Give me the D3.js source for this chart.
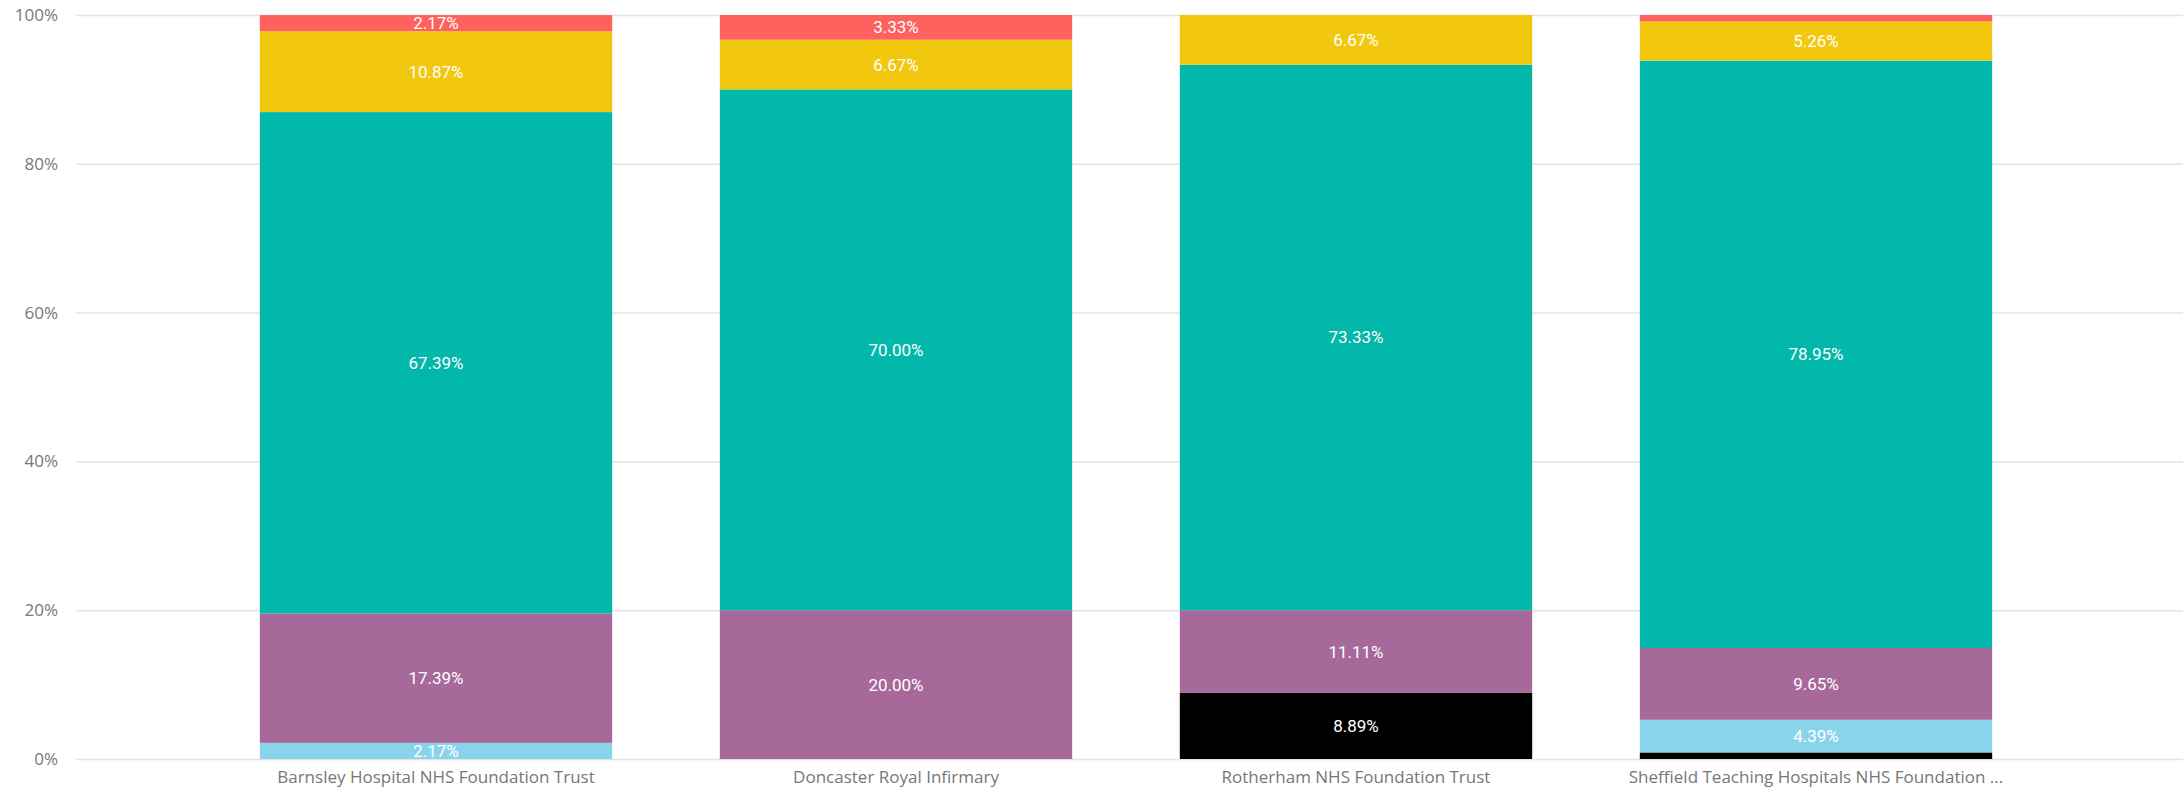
<!DOCTYPE html>
<html>
<head>
<meta charset="utf-8">
<script src="https://cdn.jsdelivr.net/npm/d3@7"></script>
<style>
    body { margin: 0; background: #fff; }
    .axis text { font-family: 'Open Sans', sans-serif; font-size: 17px; fill: #777; }
    .seg-label { font-family: Roboto, sans-serif; font-size: 17px; fill: #fff; }
</style>
</head>
<body>
<div class="bar-chart-container"></div>
<script>
// 類別 (x 軸)
const hospitals = [
    'Barnsley Hospital NHS Foundation Trust',
    'Doncaster Royal Infirmary',
    'Rotherham NHS Foundation Trust',
    'Sheffield Teaching Hospitals NHS Foundation Trust'
];
// 各系列 (由下往上堆疊), 單位 %
const seriesNames = ['black', 'lightblue', 'purple', 'teal', 'yellow', 'red'];
const seriesColors = ['#000000', '#8AD4EB', '#A66999', '#01B8AA', '#F2C80F', '#FD625E'];
const black     = [0,     0,     8.89,  0.88];
const lightblue = [2.17,  0,     0,     4.39];
const purple    = [17.39, 20.00, 11.11, 9.65];
const teal      = [67.39, 70.00, 73.33, 78.95];
const yellow    = [10.87, 6.67,  6.67,  5.26];
const red       = [2.17,  3.33,  0,     0.88];
const yTicks = [0, 20, 40, 60, 80, 100];

const seriesValues = [black, lightblue, purple, teal, yellow, red];

// 組成 stack 需要的表格
const table = hospitals.map((h, i) => {
    const row = { hospital: h };
    seriesNames.forEach((s, j) => row[s] = seriesValues[j][i]);
    return row;
});

function cutText(string) {
    return string.length < 45 ? string : string.substring(0, 43) + ' ...';
}

// set svg
const svg_width = 2183;
const svg_height = 790;
const svg = d3.select('.bar-chart-container')
    .append('svg')
    .attr('width', svg_width).attr('height', svg_height);

const plotLeft = 76, plotRight = 2183, plotTop = 15, plotBottom = 759;

const xScale = d3.scaleBand()
    .domain(hospitals)
    .range([206, 2046])
    .paddingInner(0.234)
    .paddingOuter(0.117);

const yScale = d3.scaleLinear([0, 100], [plotBottom, plotTop]);

// 格線 + y 軸
const yAxis = d3.axisLeft(yScale)
    .tickValues(yTicks)
    .tickFormat(d => d + '%')
    .tickSizeInner(-(plotRight - plotLeft))
    .tickSizeOuter(0)
    .tickPadding(18);
const yAxisDraw = svg.append('g')
    .attr('class', 'y axis')
    .attr('transform', `translate(${plotLeft},0)`)
    .call(yAxis);
yAxisDraw.select('.domain').remove();
yAxisDraw.selectAll('line').attr('stroke', '#e4e4e4').attr('stroke-width', 1.5)
    .attr('transform', `translate(${plotRight - plotLeft},0)`)
    .attr('x2', -(plotRight - plotLeft));
yAxisDraw.selectAll('text').attr('x', -18);

// 堆疊
const stacked = d3.stack().keys(seriesNames)(table);

const layers = svg.append('g').attr('class', 'bars')
    .selectAll('g').data(stacked).join('g')
    .style('fill', (d, i) => seriesColors[i]);

layers.selectAll('rect')
    .data(d => d.filter(p => p[1] - p[0] > 0))
    .join('rect')
    .attr('x', d => xScale(d.data.hospital))
    .attr('y', d => yScale(d[1]))
    .attr('width', xScale.bandwidth())
    .attr('height', d => yScale(d[0]) - yScale(d[1]));

// 資料標籤 (太小的區塊不顯示)
layers.selectAll('text')
    .data(d => d.filter(p => p[1] - p[0] > 1.5))
    .join('text')
    .attr('class', 'seg-label')
    .attr('x', d => xScale(d.data.hospital) + xScale.bandwidth() / 2)
    .attr('y', d => yScale((d[0] + d[1]) / 2))
    .attr('text-anchor', 'middle')
    .attr('dominant-baseline', 'central')
    .text(d => (d[1] - d[0]).toFixed(2) + '%');

// x 軸
const xAxis = d3.axisBottom(xScale).tickSize(0).tickPadding(12).tickFormat(cutText);
const xAxisDraw = svg.append('g')
    .attr('class', 'x axis')
    .attr('transform', `translate(0,${plotBottom})`)
    .call(xAxis);
xAxisDraw.select('.domain').remove();
</script>
</body>
</html>
